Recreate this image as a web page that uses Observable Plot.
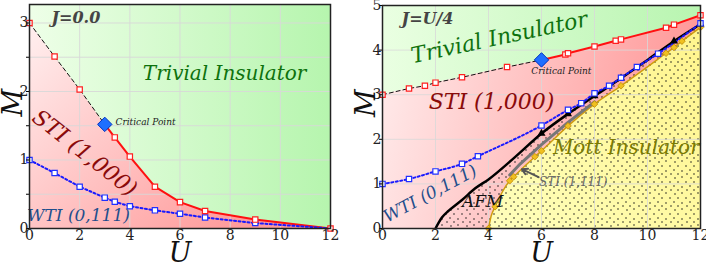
<!DOCTYPE html>
<html><head><meta charset="utf-8">
<script src="https://cdn.jsdelivr.net/npm/d3@7"></script>
<script src="https://cdn.jsdelivr.net/npm/@observablehq/plot@0.6"></script>
<style>
body{margin:0;background:#fff}
#wrap{display:flex;width:706px;height:268px}
#wrap svg{overflow:visible}
</style>
</head><body><div id="wrap"></div>
<script>
// ---------- data : left panel (J = 0.0) ----------
const leftStiU = [0, 1, 2, 3, 3.4, 4, 5, 6, 7, 9, 12];
const leftStiM = [3.0, 2.51, 2.03, 1.52, 1.33, 1.05, 0.61, 0.385, 0.255, 0.13, 0.0];
const leftCritIndex = 3;
const leftWtiU = [0, 1, 2, 3, 3.4, 4, 5, 6, 7, 9, 12];
const leftWtiM = [1.0, 0.81, 0.61, 0.45, 0.39, 0.325, 0.265, 0.215, 0.16, 0.08, 0.0];
const leftMmax = 3.27;

// ---------- data : right panel (J = U/4) ----------
const rightStiU = [0, 1, 1.6, 2, 3, 4.7, 6, 6.9, 7, 8, 8.8, 9, 10.7, 11, 12];
const rightStiM = [3.0, 3.14, 3.2, 3.27, 3.39, 3.62, 3.78, 3.9, 3.93, 4.08, 4.21, 4.24, 4.5, 4.57, 4.78];
const rightCritIndex = 6;
const rightWtiU = [0, 1, 2, 3, 3.6, 6, 7, 7.5, 8, 8.55, 9, 9.6, 10.4, 12];
const rightWtiM = [1.0, 1.11, 1.28, 1.45, 1.62, 2.31, 2.66, 2.81, 3.03, 3.2, 3.38, 3.62, 3.92, 4.6];
const afmU = [2, 2.25, 2.5, 3, 3.5, 4, 5, 6, 7, 8, 9, 10, 11, 12];
const afmM = [0, 0.25, 0.4, 0.64, 0.9, 1.1, 1.6, 2.13, 2.57, 2.97, 3.37, 3.78, 4.2, 4.58];
const afmMarkU = [6, 7, 8, 9, 11, 12];
const mottU = [4, 4.1, 4.25, 4.8, 4.95, 5.75, 6, 7, 8, 9, 10.7, 11, 11.3, 12];
const mottM = [0, 0.28, 0.49, 1.07, 1.16, 1.61, 1.74, 2.3, 2.79, 3.2, 3.93, 4.06, 4.2, 4.51];
const mottMarkU = [4, 4.25, 4.8, 4.95, 5.75, 6, 7, 8, 9, 10.7, 11, 11.3, 12];
const sti111U = [4.8, 5.2, 6, 7, 8];
const sti111M = [1.2, 1.45, 1.88, 2.38, 2.84];
const rightMmax = 5;

// ---------- tick labels ----------
const xTicks = [0, 2, 4, 6, 8, 10, 12];
const leftYTicks = [0, 0.5, 1, 1.5, 2, 2.5, 3];
const leftYLabels = [0, 1, 2, 3];
const rightYTicks = [0, 1, 2, 3, 4, 5];
const rightYLabels = [0, 1, 2, 3, 4, 5];

const pts = (us, ms) => us.map((u, i) => ({U: u, M: ms[i]}));
const FONT = "DejaVu Serif";

const stiL = pts(leftStiU, leftStiM);
const wtiL = pts(leftWtiU, leftWtiM);
const stiR = pts(rightStiU, rightStiM);
const wtiR = pts(rightWtiU, rightWtiM);
const afm = pts(afmU, afmM);
const afmMarks = afm.filter(d => afmMarkU.includes(d.U));
const mott = pts(mottU, mottM);
const mottMarks = mott.filter(d => mottMarkU.includes(d.U));
const sti111 = pts(sti111U, sti111M);

function label(txt, x, y, o) {
  return Plot.text([txt], Object.assign({x, y, text: d => d, fontFamily: FONT, fontStyle: "italic"}, o));
}
function common(yTicks, yLabels) {
  return [
    Plot.axisY({ticks: yTicks, tickSize: 3, tickFormat: () => "", label: null}),
    Plot.text(xTicks, {x: d => d, frameAnchor: "bottom", lineAnchor: "top", dy: 2, text: d => String(d), fontFamily: FONT, fontSize: 14, fill: "#222"}),
    Plot.text(yLabels, {y: d => d, frameAnchor: "left", textAnchor: "end", dx: -1, text: d => String(d), fontFamily: FONT, fontSize: 14, fill: "#222"}),
    Plot.text(["M"], {frameAnchor: "left", dx: -16, rotate: -90, lineAnchor: "middle", text: d => d, fontFamily: FONT, fontStyle: "italic", fontSize: 27, fill: "#111"}),
    Plot.text(["U"], {x: 6, frameAnchor: "bottom", lineAnchor: "middle", dy: 25, text: d => d, fontFamily: FONT, fontStyle: "italic", fontSize: 27, fill: "#111"})
  ];
}
const styleObj = {fontFamily: FONT, background: "transparent", overflow: "visible"};
const dotted = {stroke: "#1a1aff", strokeWidth: 2, strokeDasharray: "2,2.5"};

// ---------- left panel ----------
const left = Plot.plot({
  width: 353, height: 268,
  marginLeft: 29, marginRight: 23, marginTop: 4, marginBottom: 40,
  x: {domain: [0, 12], axis: null},
  y: {domain: [0, leftMmax], axis: null},
  style: styleObj,
  marks: [
    Plot.areaY(stiL, {x: "U", y1: leftMmax, y2: "M", fill: "url(#gL)"}),
    Plot.areaY(stiL, {x: "U", y1: 0, y2: "M", fill: "url(#pL)"}),
    Plot.gridX({ticks: xTicks, stroke: "#d8d8d8", strokeOpacity: 0.9}),
    Plot.gridY({ticks: leftYTicks, stroke: "#d8d8d8", strokeOpacity: 0.9}),
    Plot.line(stiL.slice(0, leftCritIndex + 1), {x: "U", y: "M", stroke: "#111", strokeWidth: 1, strokeDasharray: "4,3"}),
    Plot.line(stiL.slice(leftCritIndex), {x: "U", y: "M", stroke: "#ff1010", strokeWidth: 2}),
    Plot.line(wtiL, {x: "U", y: "M", ...dotted}),
    Plot.dot(wtiL.slice(0, -1), {x: "U", y: "M", symbol: "square", r: 3, fill: "white", stroke: "#2030ff", strokeWidth: 1.2}),
    Plot.dot(stiL.filter((d, i) => i !== leftCritIndex), {x: "U", y: "M", symbol: "square", r: 3, fill: "white", stroke: "#ff2020", strokeWidth: 1.2}),
    Plot.dot([stiL[leftCritIndex]], {x: "U", y: "M", symbol: "diamond2", r: 6.5, fill: "#1e6fff", stroke: "#0030c0", strokeWidth: 1}),
    label("J=0.0", 1.85, 3.07, {fontWeight: "bold", fontSize: 16, fill: "#444"}),
    label("Trivial Insulator", 7.78, 2.26, {fontSize: 20, fill: "#0e720e"}),
    label("Critical Point", 3.43, 1.55, {fontSize: 9, textAnchor: "start", fill: "#222"}),
    label("STI (1,000)", 2.2, 1.1, {fontSize: 22, fill: "#8a0a0a", rotate: 38}),
    label("WTI (0,111)", 1.95, 0.19, {fontSize: 17, fill: "#1f4e8c"}),
    ...common(leftYTicks, leftYLabels),
    Plot.frame({stroke: "#222", strokeWidth: 1.5})
  ]
});

// ---------- right panel ----------
const right = Plot.plot({
  width: 353, height: 268,
  marginLeft: 29, marginRight: 6, marginTop: 5, marginBottom: 40,
  x: {domain: [0, 12], axis: null},
  y: {domain: [0, rightMmax], axis: null},
  style: styleObj,
  marks: [
    Plot.areaY(stiR, {x: "U", y1: rightMmax, y2: "M", fill: "url(#gR)"}),
    Plot.areaY(stiR, {x: "U", y1: 0, y2: "M", fill: "url(#pR)"}),
    Plot.areaY(mott, {x: "U", y1: 0, y2: "M", fill: "url(#yR)", curve: "monotone-x"}),
    Plot.areaY(afm, {x: "U", y1: 0, y2: "M", fill: "url(#dots)", curve: "monotone-x"}),
    Plot.gridX({ticks: xTicks, stroke: "#d8d8d8", strokeOpacity: 0.8}),
    Plot.gridY({ticks: rightYTicks, stroke: "#d8d8d8", strokeOpacity: 0.8}),
    Plot.line(stiR.slice(0, rightCritIndex + 1), {x: "U", y: "M", stroke: "#111", strokeWidth: 1, strokeDasharray: "4,3"}),
    Plot.line(stiR.slice(rightCritIndex), {x: "U", y: "M", stroke: "#ff1010", strokeWidth: 2}),
    Plot.line(mott, {x: "U", y: "M", stroke: "#d09a10", strokeWidth: 1.5, curve: "monotone-x"}),
    Plot.line(sti111, {x: "U", y: "M", stroke: "#777", strokeWidth: 3}),
    Plot.line(afm, {x: "U", y: "M", stroke: "#000", strokeWidth: 2.5, curve: "monotone-x"}),
    Plot.line(wtiR, {x: "U", y: "M", ...dotted, curve: "monotone-x"}),
    Plot.dot(mottMarks, {x: "U", y: "M", symbol: "diamond2", r: 3, fill: "#f0c020", stroke: "#c08a00", strokeWidth: 0.8}),
    Plot.dot(afmMarks, {x: "U", y: "M", symbol: "triangle", r: 3, fill: "#000"}),
    Plot.dot(wtiR, {x: "U", y: "M", symbol: "square", r: 3, fill: "white", stroke: "#2030ff", strokeWidth: 1.2}),
    Plot.dot(stiR.filter((d, i) => i !== rightCritIndex), {x: "U", y: "M", symbol: "square", r: 3, fill: "white", stroke: "#ff2020", strokeWidth: 1.2}),
    Plot.dot([stiR[rightCritIndex]], {x: "U", y: "M", symbol: "diamond2", r: 6.5, fill: "#1e6fff", stroke: "#0030c0", strokeWidth: 1}),
    Plot.arrow([0], {x1: 5.89, y1: 1.15, x2: 5.26, y2: 1.33, stroke: "#555", strokeWidth: 2, headLength: 6}),
    label("J=U/4", 1.7, 4.71, {fontWeight: "bold", fontSize: 16, fill: "#444"}),
    label("Trivial Insulator", 4.41, 4.28, {fontSize: 22, fill: "#0e720e", rotate: -12}),
    label("Critical Point", 6.75, 3.52, {fontSize: 9, fill: "#222"}),
    label("STI (1,000)", 4.11, 2.83, {fontSize: 22, fill: "#8a0a0a"}),
    label("WTI (0,111)", 1.8, 0.78, {fontSize: 17, fill: "#1f4e8c", rotate: -28}),
    label("AFM", 3.78, 0.6, {fontSize: 17, fill: "#111"}),
    label("Mott Insulator", 9.2, 1.82, {fontSize: 20, fill: "#7a7a00"}),
    label("STI (1,111)", 7.2, 1.03, {fontSize: 12, fill: "#666"}),
    ...common(rightYTicks, rightYLabels),
    Plot.frame({stroke: "#222", strokeWidth: 1.5})
  ]
});

// ---------- gradients & patterns ----------
function addDefs(svg, defsFn) {
  const defs = d3.select(svg).insert("defs", ":first-child");
  defsFn(defs);
}
function lin(defs, id, x1, y1, x2, y2, stops) {
  const g = defs.append("linearGradient").attr("id", id).attr("gradientUnits", "userSpaceOnUse")
    .attr("x1", x1).attr("y1", y1).attr("x2", x2).attr("y2", y2);
  stops.forEach(([o, c]) => g.append("stop").attr("offset", o).attr("stop-color", c));
}
addDefs(left, defs => {
  lin(defs, "gL", 29, 0, 330, 0, [[0, "#eeffe8"], [1, "#b6f5ae"]]);
  lin(defs, "pL", 29, 20, 240, 228, [[0, "#fff0f0"], [1, "#ff9a9a"]]);
});
addDefs(right, defs => {
  lin(defs, "gR", 29, 0, 347, 0, [[0, "#eaffe2"], [1, "#b8f5b0"]]);
  lin(defs, "pR", 29, 60, 330, 120, [[0, "#ffeaea"], [1, "#ff9898"]]);
  lin(defs, "yR", 120, 228, 347, 40, [[0, "#ffffbe"], [1, "#fff58e"]]);
  const p = defs.append("pattern").attr("id", "dots").attr("patternUnits", "userSpaceOnUse")
    .attr("width", 16).attr("height", 16);
  [[2, 2], [9, 1], [5, 6], [13, 6], [1, 10], [9, 11], [5, 14], [14, 14]].forEach(([cx, cy]) =>
    p.append("circle").attr("cx", cx).attr("cy", cy).attr("r", 0.75).attr("fill", "#111"));
});

document.getElementById("wrap").append(left, right);
</script>
</body></html>
